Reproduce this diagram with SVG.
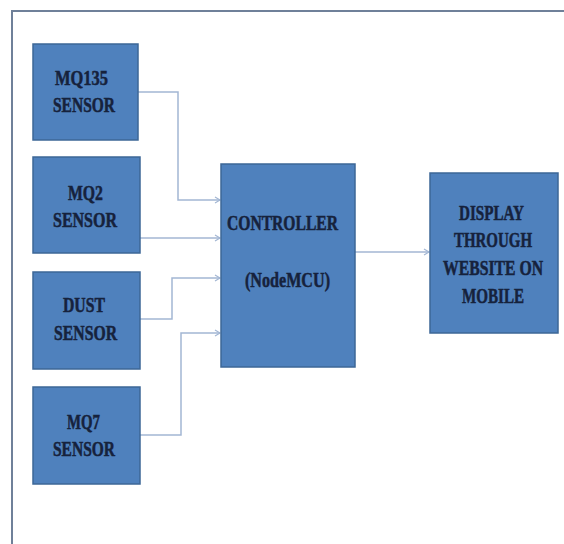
<svg xmlns="http://www.w3.org/2000/svg" width="564" height="544" viewBox="0 0 564 544">
<defs>
<style>
.box{fill:#4f81bd;stroke:#3d6797;stroke-width:1.5}
.t{font-family:"Liberation Serif","Times New Roman",serif;font-weight:bold;font-size:20px;fill:#16223c;stroke:#16223c;stroke-width:0.5}
.c{fill:none;stroke:#a3b6d3;stroke-width:1.5}
</style>
<marker id="ah" markerWidth="8" markerHeight="8" refX="6" refY="4" orient="auto" markerUnits="userSpaceOnUse">
<path d="M1,1 L6,4 L1,7" fill="none" stroke="#a3b6d3" stroke-width="1.2"/>
</marker>
</defs>
<rect width="564" height="544" fill="#ffffff"/>
<path d="M12,544 V11 H564" fill="none" stroke="#6f8099" stroke-width="2"/>
<g id="connectors">
<path class="c" d="M138,92 H178 V200 H220" marker-end="url(#ah)"/>
<path class="c" d="M140,238 H220" marker-end="url(#ah)"/>
<path class="c" d="M140,319 H172 V278 H220" marker-end="url(#ah)"/>
<path class="c" d="M140,435 H181 V333 H220" marker-end="url(#ah)"/>
<path class="c" d="M355,252 H429" marker-end="url(#ah)"/>
</g>
<g id="mq135">
<rect class="box" x="33" y="44" width="105" height="96"/>
<text class="t" x="55" y="85" textLength="53" lengthAdjust="spacingAndGlyphs">MQ135</text>
<text class="t" x="53" y="112" textLength="62" lengthAdjust="spacingAndGlyphs">SENSOR</text>
</g>
<g id="mq2">
<rect class="box" x="33" y="157" width="107" height="96"/>
<text class="t" x="68" y="200" textLength="35" lengthAdjust="spacingAndGlyphs">MQ2</text>
<text class="t" x="53" y="227" textLength="64" lengthAdjust="spacingAndGlyphs">SENSOR</text>
</g>
<g id="dust">
<rect class="box" x="33" y="272" width="107" height="97"/>
<text class="t" x="63" y="312" textLength="42" lengthAdjust="spacingAndGlyphs">DUST</text>
<text class="t" x="54" y="340" textLength="63" lengthAdjust="spacingAndGlyphs">SENSOR</text>
</g>
<g id="mq7">
<rect class="box" x="33" y="387" width="107" height="97"/>
<text class="t" x="67" y="429" textLength="33" lengthAdjust="spacingAndGlyphs">MQ7</text>
<text class="t" x="53" y="456" textLength="62" lengthAdjust="spacingAndGlyphs">SENSOR</text>
</g>
<g id="controller">
<rect class="box" x="221" y="164" width="134" height="203"/>
<text class="t" x="227" y="230" textLength="111" lengthAdjust="spacingAndGlyphs">CONTROLLER</text>
<text class="t" x="245" y="287" textLength="85" lengthAdjust="spacingAndGlyphs">(NodeMCU)</text>
</g>
<g id="display">
<rect class="box" x="430" y="173" width="128" height="160"/>
<text class="t" x="459" y="220" textLength="65" lengthAdjust="spacingAndGlyphs">DISPLAY</text>
<text class="t" x="454" y="247" textLength="78" lengthAdjust="spacingAndGlyphs">THROUGH</text>
<text class="t" x="443" y="275" textLength="100" lengthAdjust="spacingAndGlyphs">WEBSITE ON</text>
<text class="t" x="462" y="303" textLength="62" lengthAdjust="spacingAndGlyphs">MOBILE</text>
</g>
</svg>
